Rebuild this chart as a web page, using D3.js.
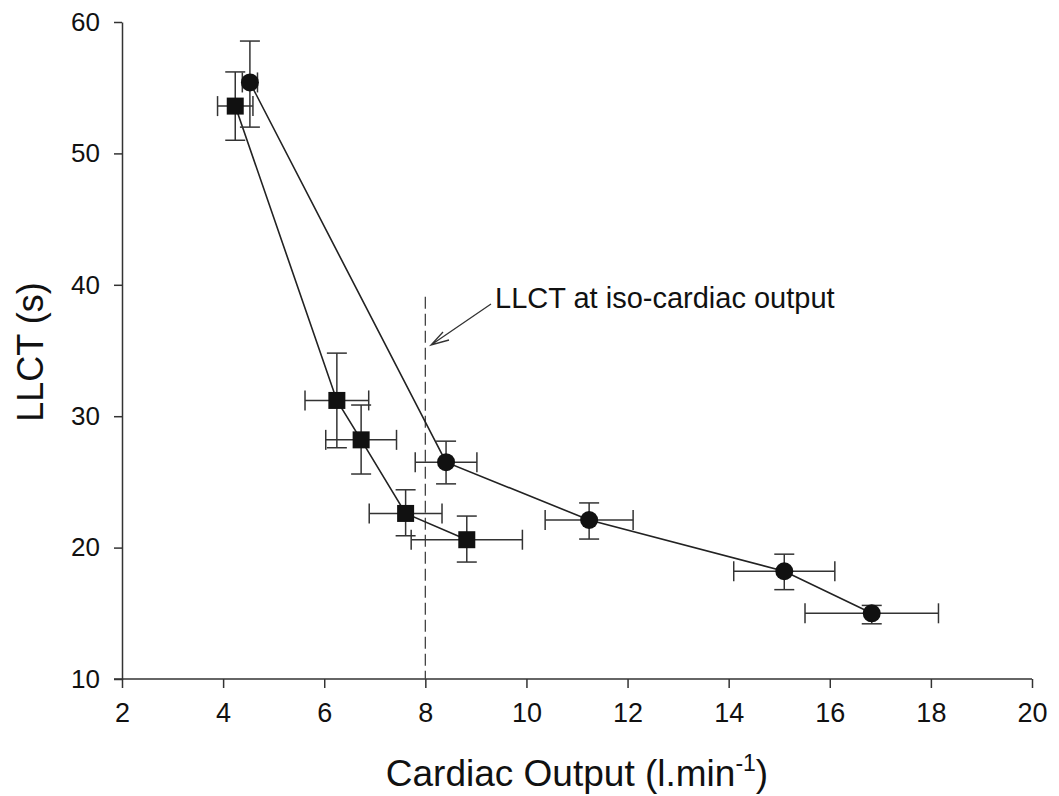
<!DOCTYPE html>
<html>
<head>
<meta charset="utf-8">
<script src="https://cdn.jsdelivr.net/npm/d3@7"></script>
<style>
  body { margin: 0; background: #fff; }
  text { font-family: "Liberation Sans", Arial, sans-serif; fill: #111; }
</style>
</head>
<body>
<div id="chart"></div>
<script>
// squares series
const sqX    = [4.24, 6.25, 6.73, 7.61, 8.82];
const sqY    = [53.6, 31.2, 28.2, 22.6, 20.6];
const sqXErr = [0.35, 0.63, 0.70, 0.72, 1.10];
const sqYLo  = [51.0, 27.6, 25.6, 20.9, 18.9];
const sqYHi  = [56.2, 34.8, 30.85, 24.4, 22.4];

// circles series
const ciX    = [4.53, 8.41, 11.24, 15.1, 16.83];
const ciY    = [55.4, 26.5, 22.1, 18.2, 15.0];
const ciXErr = [0.15, 0.61, 0.87, 1.0, 1.32];
const ciYLo  = [52.0, 24.85, 20.65, 16.8, 14.2];
const ciYHi  = [58.55, 28.1, 23.4, 19.5, 15.6];

const xTicks = [2, 4, 6, 8, 10, 12, 14, 16, 18, 20];
const yTicks = [10, 20, 30, 40, 50, 60];

const isoX = 8;
const isoTop = 39.1;
const annotation = "LLCT at iso-cardiac output";

const width = 1059, height = 796;
const svg = d3.select("#chart").append("svg")
    .attr("width", width).attr("height", height);

const x = d3.scaleLinear().domain([2, 20]).range([122, 1032]);
const y = d3.scaleLinear().domain([10, 60]).range([679, 22]);

const ink = "#222";

// axes
const xAxis = svg.append("g")
    .attr("transform", "translate(0," + y(10) + ")")
    .call(d3.axisBottom(x).tickValues(xTicks).tickSize(9).tickPadding(15).tickSizeOuter(0));
const yAxis = svg.append("g")
    .attr("transform", "translate(" + x(2) + ",0)")
    .call(d3.axisLeft(y).tickValues(yTicks).tickSize(8).tickPadding(14).tickSizeOuter(0));
[xAxis, yAxis].forEach(a => {
    a.selectAll("path, line").attr("stroke", "#333").attr("stroke-width", 1.5);
    a.selectAll("text").attr("fill", "#111")
        .attr("font-family", "'Liberation Sans', Arial, sans-serif");
});
xAxis.selectAll("text").attr("font-size", "27px");
yAxis.selectAll("text").attr("font-size", "26px");
xAxis.select(".domain").attr("d", "M" + (x(2) - 8) + ",0H" + x(20));

// axis titles
svg.append("text")
    .attr("transform", "translate(43,352) rotate(-90)")
    .attr("text-anchor", "middle")
    .attr("font-size", "36px")
    .text("LLCT (s)");

const xt = svg.append("text")
    .attr("x", 577).attr("y", 786)
    .attr("text-anchor", "middle")
    .attr("font-size", "37px");
xt.append("tspan").text("Cardiac Output (l.min");
xt.append("tspan").attr("dy", -15).attr("font-size", "23px").text("-1");
xt.append("tspan").attr("dy", 15).text(")");

// iso-cardiac output dashed line
svg.append("line")
    .attr("x1", x(isoX)).attr("x2", x(isoX))
    .attr("y1", y(isoTop)).attr("y2", y(10))
    .attr("stroke", "#444").attr("stroke-width", 1.3)
    .attr("stroke-dasharray", "12,5");

// annotation + arrow
svg.append("text")
    .attr("x", 495).attr("y", 308)
    .attr("font-size", "29px")
    .text(annotation);
const tip = [431, 345];
svg.append("path")
    .attr("d", "M491,304L" + tip[0] + "," + tip[1]
        + "M443,332L" + tip[0] + "," + tip[1] + "L449,340")
    .attr("fill", "none").attr("stroke", "#333").attr("stroke-width", 1.3);

function drawSeries(xs, ys, xErr, yLo, yHi, shape) {
    const pts = xs.map((v, i) => ({ x: v, y: ys[i], xe: xErr[i], lo: yLo[i], hi: yHi[i] }));
    const g = svg.append("g");

    g.append("path")
        .datum(pts)
        .attr("d", d3.line().x(d => x(d.x)).y(d => y(d.y)))
        .attr("fill", "none").attr("stroke", ink).attr("stroke-width", 1.6);

    const cap = 10;
    const eb = g.append("g").attr("stroke", "#333").attr("stroke-width", 1.5);
    pts.forEach(d => {
        const cx = x(d.x), cy = y(d.y);
        eb.append("line").attr("x1", cx).attr("x2", cx).attr("y1", y(d.lo)).attr("y2", y(d.hi));
        eb.append("line").attr("x1", cx - cap).attr("x2", cx + cap).attr("y1", y(d.lo)).attr("y2", y(d.lo));
        eb.append("line").attr("x1", cx - cap).attr("x2", cx + cap).attr("y1", y(d.hi)).attr("y2", y(d.hi));
        const xl = x(d.x - d.xe), xr = x(d.x + d.xe);
        eb.append("line").attr("x1", xl).attr("x2", xr).attr("y1", cy).attr("y2", cy);
        eb.append("line").attr("x1", xl).attr("x2", xl).attr("y1", cy - cap).attr("y2", cy + cap);
        eb.append("line").attr("x1", xr).attr("x2", xr).attr("y1", cy - cap).attr("y2", cy + cap);
    });

    if (shape === "circle") {
        g.selectAll("circle").data(pts).enter().append("circle")
            .attr("cx", d => x(d.x)).attr("cy", d => y(d.y))
            .attr("r", 9).attr("fill", "#111");
    } else {
        g.selectAll("rect").data(pts).enter().append("rect")
            .attr("x", d => x(d.x) - 8.5).attr("y", d => y(d.y) - 8.5)
            .attr("width", 17).attr("height", 17).attr("fill", "#111");
    }
}

drawSeries(sqX, sqY, sqXErr, sqYLo, sqYHi, "square");
drawSeries(ciX, ciY, ciXErr, ciYLo, ciYHi, "circle");
</script>
</body>
</html>
